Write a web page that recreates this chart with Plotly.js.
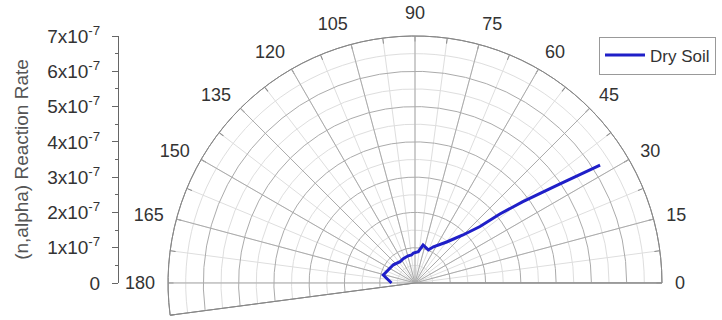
<!DOCTYPE html>
<html>
<head>
<meta charset="utf-8">
<script src="https://cdn.plot.ly/plotly-3.0.1.min.js"></script>
<style>html,body{margin:0;padding:0;background:#fff;}#chart{width:722px;height:320px;}</style>
</head>
<body>
<div id="chart"></div>
<script>
// Data (angle in degrees, reaction rate)
const seriesName = "Dry Soil";
const angles = [180, 166, 140, 125, 115, 104, 97, 93, 84, 78, 68, 63, 52.3, 45, 41, 39.1, 37.0, 34.5, 32.5];
const rates = [0.666e-7, 0.927e-7, 0.80e-7, 0.737e-7, 0.765e-7, 0.794e-7, 0.80e-7, 0.85e-7, 0.893e-7, 1.10e-7, 1.01e-7, 1.15e-7, 1.468e-7, 1.924e-7, 2.44e-7, 3.10e-7, 3.83e-7, 4.88e-7, 6.22e-7];

const angleMajorTicks = [0, 15, 30, 45, 60, 75, 90, 105, 120, 135, 150, 165, 180];
const angleMajorLabels = ["0", "15", "30", "45", "60", "75", "90", "105", "120", "135", "150", "165", "180"];
const angleMinorTicks = [0, 7.5, 15, 22.5, 30, 37.5, 45, 52.5, 60, 67.5, 75, 82.5, 90, 97.5, 105, 112.5, 120, 127.5, 135, 142.5, 150, 157.5, 165, 172.5, 180, 187.5];
const rateMajorTicks = [0, 1e-7, 2e-7, 3e-7, 4e-7, 5e-7, 6e-7, 7e-7];
const rateMajorLabels = ["0", "1x10<sup>-7</sup>", "2x10<sup>-7</sup>", "3x10<sup>-7</sup>", "4x10<sup>-7</sup>", "5x10<sup>-7</sup>", "6x10<sup>-7</sup>", "7x10<sup>-7</sup>"];
const rateMinorTicks = [0.5e-7, 1.5e-7, 2.5e-7, 3.5e-7, 4.5e-7, 5.5e-7, 6.5e-7];
const rateMax = 7e-7;

const family = "Liberation Sans, Arial, sans-serif";
const font = {family: family, size: 17, color: "#333"};
const angleFont = {family: family, size: 18, color: "#333"};
const tickFont = {family: family, size: 19, color: "#333"};

const traces = [
  {type: "scatter", x: [], y: [], xaxis: "x", yaxis: "y", showlegend: false, hoverinfo: "skip"},
  {type: "scatterpolar", subplot: "polar", theta: [], r: [], mode: "lines", showlegend: false, hoverinfo: "skip"},
  {type: "scatterpolar", subplot: "polar2", theta: angles, r: rates, mode: "lines", name: seriesName,
   line: {color: "#1f1fc8", width: 3}}
];

const polarDomain = {x: [168/722, 662/722], y: [1 - 315.2/320, 1 - 36/320]};

const layout = {
  width: 722, height: 320,
  margin: {l: 0, r: 0, t: 0, b: 0},
  paper_bgcolor: "#fff",
  plot_bgcolor: "rgba(0,0,0,0)",
  font: font,
  showlegend: true,
  legend: {x: 599/722, y: 1 - 36.5/320, xanchor: "left", yanchor: "top",
           bordercolor: "#999", borderwidth: 1, bgcolor: "#fff", font: font,
           tracegroupgap: 0, itemwidth: 40, entrywidth: 140, entrywidthmode: "pixels"},
  xaxis: {domain: [0.10, 0.16], visible: false, fixedrange: true},
  yaxis: {domain: [1 - 283/320, 1 - 36/320], range: [0, rateMax], anchor: "free", position: 118/722,
          side: "left", showline: true, linecolor: "#666", linewidth: 1, ticks: "outside", ticklen: 6,
          tickcolor: "#666", tickmode: "array", tickvals: rateMajorTicks, ticktext: rateMajorLabels,
          showgrid: false, zeroline: false, tickfont: tickFont, ticklabelstandoff: 8,
          minor: {ticks: "outside", ticklen: 3, tickcolor: "#666", tickvals: rateMinorTicks, showgrid: false},
          title: {text: "(n,alpha) Reaction Rate", font: {family: family, size: 19, color: "#555"}, standoff: 12}},
  polar: {
    domain: polarDomain, sector: [0, 187.5], hole: 0, bgcolor: "rgba(0,0,0,0)",
    radialaxis: {range: [0, rateMax], tickmode: "array", tickvals: rateMinorTicks, showticklabels: false,
                 ticks: "", showline: false, gridcolor: "#dedede", gridwidth: 1},
    angularaxis: {tickmode: "array", tickvals: angleMinorTicks, showticklabels: false, ticks: "inside",
                  ticklen: 5, tickcolor: "#888", showline: true, linecolor: "#888", gridcolor: "#dedede", gridwidth: 1,
                  direction: "counterclockwise", rotation: 0}
  },
  polar2: {
    domain: polarDomain, sector: [0, 187.5], hole: 0, bgcolor: "rgba(0,0,0,0)",
    radialaxis: {range: [0, rateMax], tickmode: "array", tickvals: rateMajorTicks, showticklabels: false,
                 ticks: "", showline: false, gridcolor: "#ababab", gridwidth: 1},
    angularaxis: {tickmode: "array", tickvals: angleMajorTicks, ticktext: angleMajorLabels, ticks: "outside",
                  ticklen: 9, tickcolor: "rgba(0,0,0,0)", showline: true, linecolor: "#888", linewidth: 1,
                  gridcolor: "#ababab", gridwidth: 1, tickfont: angleFont,
                  direction: "counterclockwise", rotation: 0}
  }
};

Plotly.newPlot("chart", traces, layout, {staticPlot: true, displayModeBar: false});
</script>
</body>
</html>
